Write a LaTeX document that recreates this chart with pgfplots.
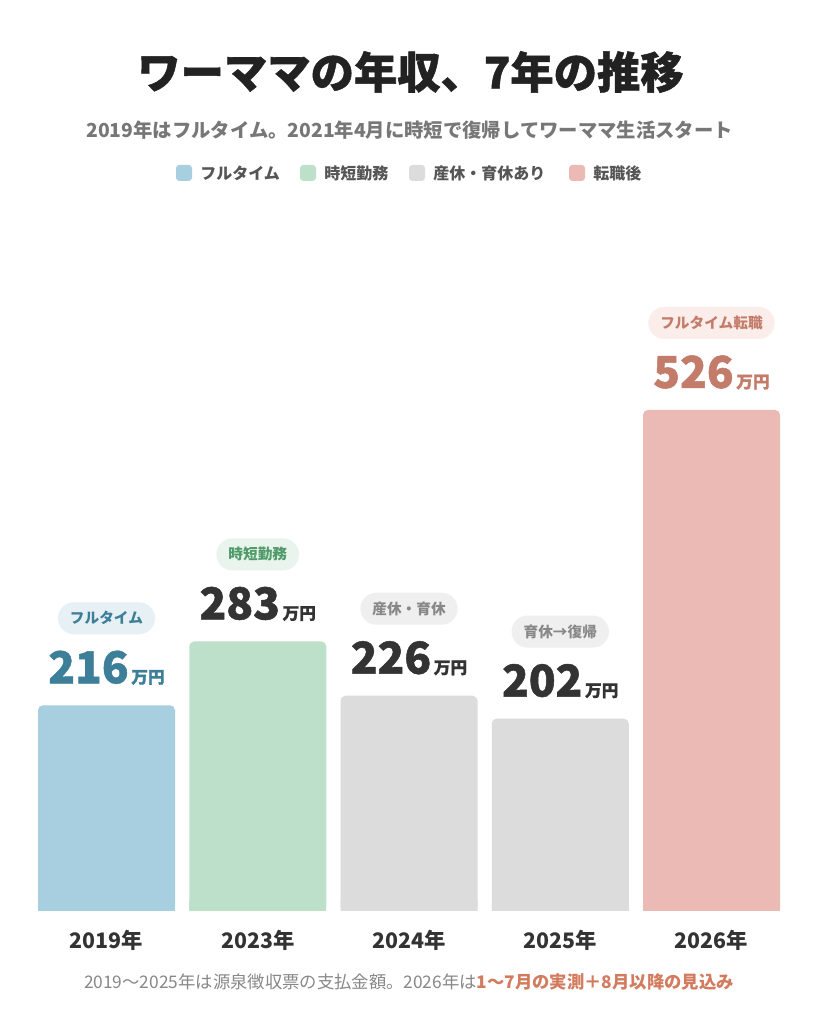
\documentclass[border=0pt]{standalone}
\usepackage{fontspec}
\setmainfont{Noto Sans CJK JP}
\newfontfamily\heavyfont{Noto Sans CJK JP}[BoldFeatures={FakeBold=1.2}]
\usepackage{pgfplots}
\pgfplotsset{compat=1.18}
\definecolor{titlec}{HTML}{222222}
\definecolor{subc}{HTML}{777777}
\definecolor{legc}{HTML}{555555}
\definecolor{c1}{HTML}{A8CFE0}
\definecolor{c2}{HTML}{BDE0CB}
\definecolor{c3}{HTML}{DCDCDC}
\definecolor{c5}{HTML}{ECBAB4}
\definecolor{b1}{HTML}{E6F0F5}
\definecolor{t1}{HTML}{3D7E99}
\definecolor{b2}{HTML}{E8F4EC}
\definecolor{t2}{HTML}{4E9A68}
\definecolor{b3}{HTML}{EFEFEF}
\definecolor{t3}{HTML}{888888}
\definecolor{b5}{HTML}{FBEDEA}
\definecolor{t5}{HTML}{C47C6A}
\definecolor{numc}{HTML}{333333}
\definecolor{footc}{HTML}{888888}
\definecolor{footo}{HTML}{D27B5E}
\newcommand{\numfont}{\heavyfont\bfseries\fontsize{33}{36}\selectfont}
\newcommand{\unitfont}{\bfseries\fontsize{12.5}{14}\selectfont}
\newcommand{\badgefont}{\bfseries\fontsize{11}{12}\selectfont}
\begin{document}
\begin{tikzpicture}[x=0.75pt,y=0.75pt]
\fill[white] (0,0) rectangle (819,1024);
% title
\node[font=\heavyfont\bfseries\fontsize{32.5}{36}\selectfont, text=titlec] at (410.5,952) {ワーママの年収、7年の推移};
\node[font=\bfseries\fontsize{14.5}{17}\selectfont, text=subc] at (409.5,894) {2019年はフルタイム。2021年4月に時短で復帰してワーママ生活スタート};
% legend
\fill[c1, rounded corners=2.5pt] (176,843) rectangle (192,859);
\node[anchor=west, inner sep=0pt, font=\bfseries\fontsize{12}{14}\selectfont, text=legc] at (200,851) {フルタイム};
\fill[c2, rounded corners=2.5pt] (300,843) rectangle (316,859);
\node[anchor=west, inner sep=0pt, font=\bfseries\fontsize{12}{14}\selectfont, text=legc] at (324,851) {時短勤務};
\fill[c3, rounded corners=2.5pt] (409,843) rectangle (425,859);
\node[anchor=west, inner sep=0pt, font=\bfseries\fontsize{12}{14}\selectfont, text=legc] at (433,851) {産休・育休あり};
\fill[c5, rounded corners=2.5pt] (569,843) rectangle (585,859);
\node[anchor=west, inner sep=0pt, font=\bfseries\fontsize{12}{14}\selectfont, text=legc] at (593,851) {転職後};
% footnote
\node[font=\fontsize{13}{15}\selectfont] at (409,42) {\color{footc}2019〜2025年は源泉徴収票の支払金額。2026年は{\bfseries\color{footo}1〜7月の実測＋8月以降の見込み}};
\begin{axis}[
  at={(23.156pt,84.75pt)}, anchor=south west,
  x=113.4375pt, y=0.71438pt,
  xmin=-0.5, xmax=4.5, ymin=0, ymax=600,
  hide axis, clip=false,
]
\addplot[ybar, bar width=102.75pt, bar shift=0pt, fill=c1, draw=none, rounded corners=3.75pt] coordinates {(0,216)};
\addplot[ybar, bar width=102.75pt, bar shift=0pt, fill=c1, draw=none] coordinates {(0,10)};
\addplot[ybar, bar width=102.75pt, bar shift=0pt, fill=c2, draw=none, rounded corners=3.75pt] coordinates {(1,283)};
\addplot[ybar, bar width=102.75pt, bar shift=0pt, fill=c2, draw=none] coordinates {(1,10)};
\addplot[ybar, bar width=102.75pt, bar shift=0pt, fill=c3, draw=none, rounded corners=3.75pt] coordinates {(2,226) (3,202)};
\addplot[ybar, bar width=102.75pt, bar shift=0pt, fill=c3, draw=none] coordinates {(2,10) (3,10)};
\addplot[ybar, bar width=102.75pt, bar shift=0pt, fill=c5, draw=none, rounded corners=3.75pt] coordinates {(4,526)};
\addplot[ybar, bar width=102.75pt, bar shift=0pt, fill=c5, draw=none] coordinates {(4,10)};
% value labels
\node[anchor=base, inner sep=0pt, yshift=16.5pt, text=t1] at (axis cs:0,216) {\numfont 216\hspace{2pt}{\unitfont 万円}};
\node[anchor=base, inner sep=0pt, yshift=16.5pt, text=numc] at (axis cs:1,283) {\numfont 283\hspace{2pt}{\unitfont 万円}};
\node[anchor=base, inner sep=0pt, yshift=16.5pt, text=numc] at (axis cs:2,226) {\numfont 226\hspace{2pt}{\unitfont 万円}};
\node[anchor=base, inner sep=0pt, yshift=16.5pt, text=numc] at (axis cs:3,202) {\numfont 202\hspace{2pt}{\unitfont 万円}};
\node[anchor=base, inner sep=0pt, yshift=16.5pt, text=t5] at (axis cs:4,526) {\numfont 526\hspace{2pt}{\unitfont 万円}};
% badges
\node[fill=b1, text=t1, rounded corners=12pt, minimum height=24pt, inner xsep=9pt, font=\badgefont, yshift=65.25pt] at (axis cs:0,216) {フルタイム};
\node[fill=b2, text=t2, rounded corners=12pt, minimum height=24pt, inner xsep=9pt, font=\badgefont, yshift=65.25pt] at (axis cs:1,283) {時短勤務};
\node[fill=b3, text=t3, rounded corners=12pt, minimum height=24pt, inner xsep=9pt, font=\badgefont, yshift=65.25pt] at (axis cs:2,226) {産休・育休};
\node[fill=b3, text=t3, rounded corners=12pt, minimum height=24pt, inner xsep=9pt, font=\badgefont, yshift=65.25pt] at (axis cs:3,202) {育休→復帰};
\node[fill=b5, text=t5, rounded corners=12pt, minimum height=24pt, inner xsep=9pt, font=\badgefont, yshift=65.25pt] at (axis cs:4,526) {フルタイム転職};
% year labels
\foreach \i/\yr in {0/2019,1/2023,2/2024,3/2025,4/2026}{
  \edef\tmp{\noexpand\node[text=numc, font=\noexpand\bfseries\noexpand\fontsize{16}{18}\noexpand\selectfont, yshift=-21.75pt] at (axis cs:\i,0) {\yr 年};}
  \tmp
}
\end{axis}
\end{tikzpicture}
\end{document}
